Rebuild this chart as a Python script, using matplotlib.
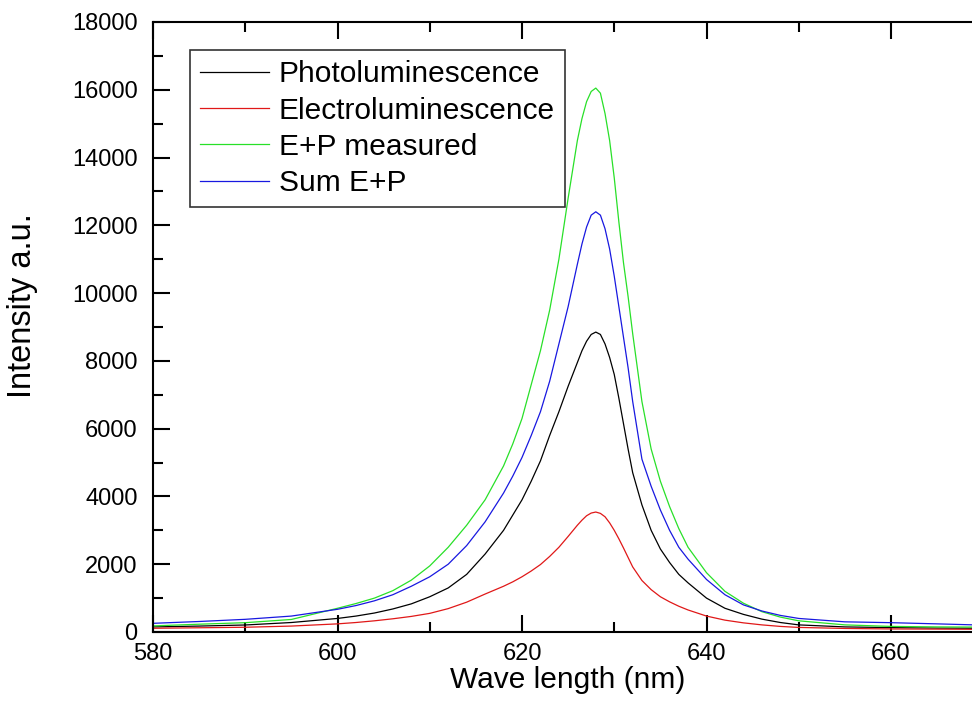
import matplotlib
matplotlib.use('Agg')
import matplotlib.pyplot as plt
from matplotlib.ticker import MultipleLocator

plt.rcParams['font.family'] = ['Liberation Sans', 'DejaVu Sans']

# Wavelength samples (nm)
wl = [580, 585, 590, 595, 600, 602, 604, 606, 608, 610, 612, 614, 616, 618, 619,
      620, 621, 622, 623, 624, 625, 626, 626.5, 627, 627.5, 628, 628.5, 629, 629.5,
      630, 630.5, 631, 631.5, 632, 633, 634, 635, 636, 637, 638, 640, 642, 644,
      646, 648, 650, 655, 660, 665, 669]

# Photoluminescence
pl = [150, 175, 207, 280, 400, 470, 560, 680, 830, 1040, 1300, 1700, 2300, 3000, 3450,
      3900, 4450, 5050, 5800, 6500, 7250, 7950, 8300, 8580, 8780, 8850, 8780, 8500, 8100,
      7600, 6900, 6150, 5400, 4700, 3750, 3000, 2450, 2050, 1700, 1450, 1000, 700, 520,
      380, 280, 210, 150, 130, 115, 110]

# Electroluminescence
el = [110, 125, 140, 175, 240, 280, 330, 390, 460, 550, 690, 880, 1120, 1350, 1480,
      1630, 1800, 1990, 2230, 2500, 2820, 3150, 3300, 3430, 3510, 3540, 3500, 3400, 3220,
      3000, 2750, 2480, 2200, 1920, 1520, 1250, 1040, 890, 760, 650, 470, 350, 270,
      210, 165, 135, 105, 90, 85, 80]

# E+P measured
ep_meas = [180, 230, 275, 370, 700, 840, 1000, 1220, 1530, 1950, 2500, 3150, 3900, 4900, 5550,
           6300, 7300, 8300, 9500, 11000, 12800, 14500, 15150, 15650, 15950, 16050, 15900, 15300, 14500,
           13400, 12100, 10900, 9900, 8800, 6800, 5400, 4450, 3700, 3050, 2500, 1750, 1200, 850,
           600, 440, 330, 210, 165, 150, 145]

# Sum E+P
ep_sum = [256, 310, 374, 470, 670, 780, 920, 1100, 1350, 1630, 2000, 2550, 3250, 4100, 4600,
          5150, 5800, 6500, 7400, 8500, 9600, 10850, 11450, 11950, 12300, 12400, 12300, 11900, 11300,
          10500, 9600, 8700, 7800, 6800, 5100, 4300, 3600, 3000, 2500, 2150, 1550, 1100, 800,
          620, 490, 400, 300, 275, 240, 210]

fig = plt.figure(figsize=(9.72, 7.2), dpi=100)
ax = fig.add_axes([153/972, 88/720, 90*9.225/972, 610/720])

ax.plot(wl, pl, color='black', lw=0.9, label='Photoluminescence')
ax.plot(wl, el, color='#e01818', lw=0.9, label='Electroluminescence')
ax.plot(wl, ep_meas, color='#28e028', lw=0.9, label='E+P measured')
ax.plot(wl, ep_sum, color='#1818e0', lw=0.9, label='Sum E+P')

ax.set_xlim(580, 670)
ax.set_ylim(0, 18000)
ax.xaxis.set_major_locator(MultipleLocator(20))
ax.xaxis.set_minor_locator(MultipleLocator(10))
ax.yaxis.set_major_locator(MultipleLocator(2000))
ax.yaxis.set_minor_locator(MultipleLocator(1000))
ax.tick_params(which='both', direction='in', top=True, right=False, width=1.5)
ax.tick_params(which='major', length=12, labelsize=17)
ax.tick_params(which='minor', length=7)
ax.tick_params(axis='x', pad=8)
ax.tick_params(axis='y', pad=11)
for s in ax.spines.values():
    s.set_linewidth(1.5)

ax.set_xlabel('Wave length (nm)', fontsize=21.5)
ax.set_ylabel('Intensity a.u.', fontsize=23.5)
ax.xaxis.set_label_coords(0.5, (632 - 666) / 610)
ax.yaxis.set_label_coords(38/972, 1 - 306/720, transform=fig.transFigure)

leg = ax.legend(loc='upper left', bbox_to_anchor=(190/972, 1 - 50/720),
                bbox_transform=fig.transFigure, borderaxespad=0, fontsize=21.5,
                fancybox=False, frameon=True, handlelength=2.31, handletextpad=0.33,
                borderpad=0.34, labelspacing=0.28)
leg.get_frame().set_edgecolor('black')
leg.get_frame().set_linewidth(1.2)

fig.savefig('out.png', dpi=100)
